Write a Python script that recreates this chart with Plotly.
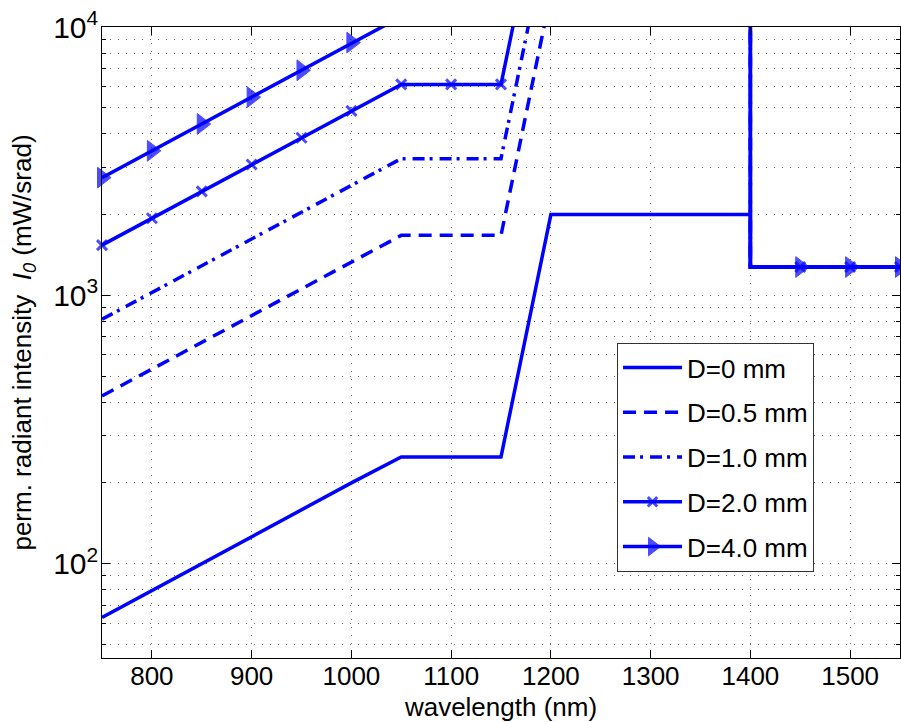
import plotly.graph_objects as go

# ---- data ----
wavelength = [750, 800, 850, 900, 950, 1000, 1050, 1100, 1150, 1200,
              1250, 1300, 1350, 1400, 1400, 1450, 1500, 1550]

i_d00 = [63, 79.4, 100, 126, 158, 200, 250, 250, 250, 2000,
         2000, 2000, 2000, 2000, 1275, 1275, 1275, 1275]
i_d05 = [422, 531, 668, 841, 1059, 1333, 1673, 1673, 1673, 13300,
         13300, 13300, 13300, 13300, 1275, 1275, 1275, 1275]
i_d10 = [814, 1025, 1290, 1624, 2045, 2574, 3232, 3232, 3232, 25700,
         25700, 25700, 25700, 25700, 1275, 1275, 1275, 1275]
i_d20 = [1539, 1938, 2440, 3072, 3867, 4868, 6109, 6109, 6109, 48500,
         48500, 48500, 48500, 48500, 1275, 1275, 1275, 1275]
i_d40 = [2746, 3457, 4352, 5479, 6898, 8748, 10930, 10930, 10930, 86800,
         86800, 86800, 86800, 86800, 1275, 1275, 1275, 1275]

series_names = ["D=0 mm", "D=0.5 mm", "D=1.0 mm", "D=2.0 mm", "D=4.0 mm"]
x_tick_vals = [800, 900, 1000, 1100, 1200, 1300, 1400, 1500]

BLUE = "#0000ff"
FONT = "Liberation Sans"
FS = 26
FS_YTICK = 24
FS_LEG = 26
GRID = "#666666"

# no marker on the second point of the vertical step at 1400 nm
def marker_sizes(size):
    return [0 if i > 0 and wavelength[i] == wavelength[i - 1] else size
            for i in range(len(wavelength))]

fig = go.Figure()

fig.add_trace(go.Scatter(x=wavelength, y=i_d00, name=series_names[0], mode="lines",
                         line=dict(color=BLUE, width=3.5), legendgroup="a"))
fig.add_trace(go.Scatter(x=wavelength, y=i_d05, name=series_names[1], mode="lines",
                         line=dict(color=BLUE, width=3.5, dash="13px,8px"), legendgroup="b"))
fig.add_trace(go.Scatter(x=wavelength, y=i_d10, name=series_names[2], mode="lines",
                         line=dict(color=BLUE, width=3.5, dash="12px,5px,3px,7px"), legendgroup="c"))
fig.add_trace(go.Scatter(x=wavelength, y=i_d20, name=series_names[3], mode="lines+markers",
                         line=dict(color=BLUE, width=3.5), legendgroup="d",
                         cliponaxis=False,
                         marker=dict(symbol="x-thin", size=marker_sizes(10), color=BLUE,
                                     line=dict(color=BLUE, width=3))))
fig.add_trace(go.Scatter(x=wavelength, y=i_d40, name=series_names[4], mode="lines+markers",
                         line=dict(color=BLUE, width=3.5), legendgroup="e",
                         cliponaxis=False,
                         marker=dict(symbol="triangle-right", size=marker_sizes(18), color=BLUE,
                                     line=dict(color=BLUE, width=1))))

fig.update_layout(
    width=901, height=722,
    margin=dict(l=102, r=1, t=27, b=64, autoexpand=False),
    paper_bgcolor="white", plot_bgcolor="white",
    font=dict(family=FONT, size=FS, color="black"),
    showlegend=True,
    legend=dict(x=0.6454, y=0.4992, xanchor="left", yanchor="top",
                bgcolor="white", bordercolor="#333333", borderwidth=1,
                font=dict(family=FONT, size=FS_LEG), tracegroupgap=8,
                itemwidth=59),
)

fig.update_xaxes(
    range=[750, 1550], tickvals=x_tick_vals, automargin=False,
    showline=True, linecolor="black", linewidth=1, mirror="allticks",
    ticks="inside", ticklen=8, tickcolor="black",
    showgrid=True, gridcolor=GRID, griddash="1px,7px", gridwidth=1,
    zeroline=False, ticklabelstandoff=-5,
    tickfont=dict(family=FONT, size=FS),
    title=dict(text="wavelength (nm)", font=dict(family=FONT, size=FS), standoff=8),
)

fig.update_yaxes(
    type="log", range=[1.6485, 4.0], dtick=1, tick0=0, automargin=False,
    exponentformat="power", showexponent="all", ticklabeloverflow="allow",
    showline=True, linecolor="black", linewidth=1, mirror="allticks",
    ticks="inside", ticklen=8, tickcolor="black",
    showgrid=True, gridcolor=GRID, griddash="1px,7px", gridwidth=1,
    zeroline=False, ticklabelstandoff=-2,
    minor=dict(dtick="D1", ticks="inside", ticklen=4, tickcolor="black",
               showgrid=True, gridcolor=GRID, griddash="1px,7px", gridwidth=1),
    tickfont=dict(family=FONT, size=FS_YTICK),
    title=dict(text="perm. radiant intensity  <i>I</i><sub><i>0</i></sub> (mW/srad)",
               font=dict(family=FONT, size=FS), standoff=14),
)

# the page body has a default 8 px margin; remove it so the figure fills the window
fig.write_html(
    "out.html",
    config={"displayModeBar": False},
    post_script="document.body.style.margin='0';document.body.style.overflow='hidden';",
)
